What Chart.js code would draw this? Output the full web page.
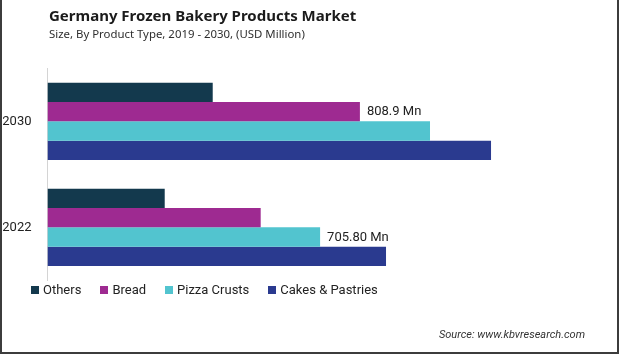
<!DOCTYPE html>
<html>
<head>
<meta charset="utf-8">
<title>Germany Frozen Bakery Products Market</title>
<script src="https://cdn.jsdelivr.net/npm/chart.js@4.4.1/dist/chart.umd.min.js"></script>
<style>
    html, body { margin: 0; padding: 0; background: #fff; }
    .frame { position: relative; width: 619px; height: 354px; overflow: hidden; font-family: Roboto, sans-serif; }
    .frame canvas { position: absolute; left: 0; top: 0; }
    .edge { position: absolute; left: 0; top: 0; right: 0; bottom: 0; box-sizing: border-box;
            border: 2px solid #3c3c3c; border-top: none; pointer-events: none; }
    .title { position: absolute; left: 49px; top: 5px; font: bold 15px 'Noto Sans', sans-serif; color: #1b1b1b; white-space: nowrap; }
    .subtitle { position: absolute; left: 49px; top: 26px; font: 11.4px 'Noto Sans', sans-serif; color: #2e2e2e; white-space: nowrap; }
    .legend { position: absolute; left: 31px; top: 282px; font: 13px Roboto, sans-serif; color: #222; white-space: nowrap; line-height: 16px; }
    .legend span.item { display: inline-block; margin-right: 19px; }
    .legend span.box { display: inline-block; width: 8px; height: 8px; margin-right: 4px; vertical-align: 0px; }
    .source { position: absolute; right: 34px; top: 328px; font: italic 11px Roboto, sans-serif; color: #333; line-height: 14px; }
</style>
</head>
<body>
<div class="frame">
    <canvas id="bakeryChart" width="619" height="354"></canvas>
    <div class="title">Germany Frozen Bakery Products Market</div>
    <div class="subtitle">Size, By Product Type, 2019 - 2030, (USD Million)</div>
    <div class="legend" id="bakeryLegend"></div>
    <div class="source">Source: www.kbvresearch.com</div>
    <div class="edge"></div>
</div>
<script>
// Chart data (USD Million)
const years = ['2030', '2022'];
const others = [427.8, 303.5];
const bread = [808.9, 552.0];
const pizzaCrusts = [990.4, 705.8];
const cakesPastries = [1148.4, 876.5];

const seriesNames = ['Others', 'Bread', 'Pizza Crusts', 'Cakes & Pastries'];
const seriesColors = ['#13394d', '#9e2a91', '#52c4cf', '#2a3a8f'];

// Only two bars carry a value label in the original
const valueLabels = [
    { series: 1, index: 0, text: '808.9 Mn' },
    { series: 2, index: 1, text: '705.80 Mn' }
];

initializeChart();

function initializeChart() {
    const seriesValues = [others, bread, pizzaCrusts, cakesPastries];

    const datasets = seriesNames.map(function (name, i) {
        return {
            label: name,
            data: seriesValues[i],
            backgroundColor: seriesColors[i],
            borderWidth: 0,
            barPercentage: 1,
            categoryPercentage: 0.729
        };
    });

    // Draws the "Mn" labels just past the end of their bars
    const valueLabelPlugin = {
        id: 'valueLabels',
        afterDatasetsDraw: function (chart) {
            const ctx = chart.ctx;
            ctx.save();
            ctx.font = '13px Roboto, sans-serif';
            ctx.fillStyle = '#222';
            ctx.textAlign = 'left';
            ctx.textBaseline = 'middle';
            valueLabels.forEach(function (lbl) {
                const bar = chart.getDatasetMeta(lbl.series).data[lbl.index];
                ctx.fillText(lbl.text, bar.x + 7, bar.y + 0.5);
            });
            ctx.restore();
        }
    };

    const ctx = document.getElementById('bakeryChart');
    const chart = new Chart(ctx.getContext('2d'), {
        type: 'bar',
        data: {
            labels: years,
            datasets: datasets
        },
        options: {
            indexAxis: 'y',
            responsive: false,
            animation: false,
            layout: {
                padding: { top: 68.35, left: 3, right: 30.8, bottom: 73.65 }
            },
            scales: {
                x: {
                    display: false,
                    min: 0,
                    max: 1400
                },
                y: {
                    grid: { display: false, drawTicks: false },
                    border: { display: true, color: '#d4d4d4', width: 1 },
                    ticks: {
                        color: '#222',
                        padding: 16,
                        font: { family: 'Roboto', size: 13 }
                    },
                    afterFit: function (scale) {
                        scale.width = 44.5;
                    }
                }
            },
            plugins: {
                legend: { display: false },
                tooltip: { enabled: false }
            }
        },
        plugins: [valueLabelPlugin]
    });

    buildLegend(chart);
}

function buildLegend(chart) {
    const legend = document.getElementById('bakeryLegend');
    chart.data.datasets.forEach(function (ds) {
        const item = document.createElement('span');
        item.className = 'item';
        const box = document.createElement('span');
        box.className = 'box';
        box.style.background = ds.backgroundColor;
        item.appendChild(box);
        item.appendChild(document.createTextNode(ds.label));
        legend.appendChild(item);
    });
}
</script>
</body>
</html>
